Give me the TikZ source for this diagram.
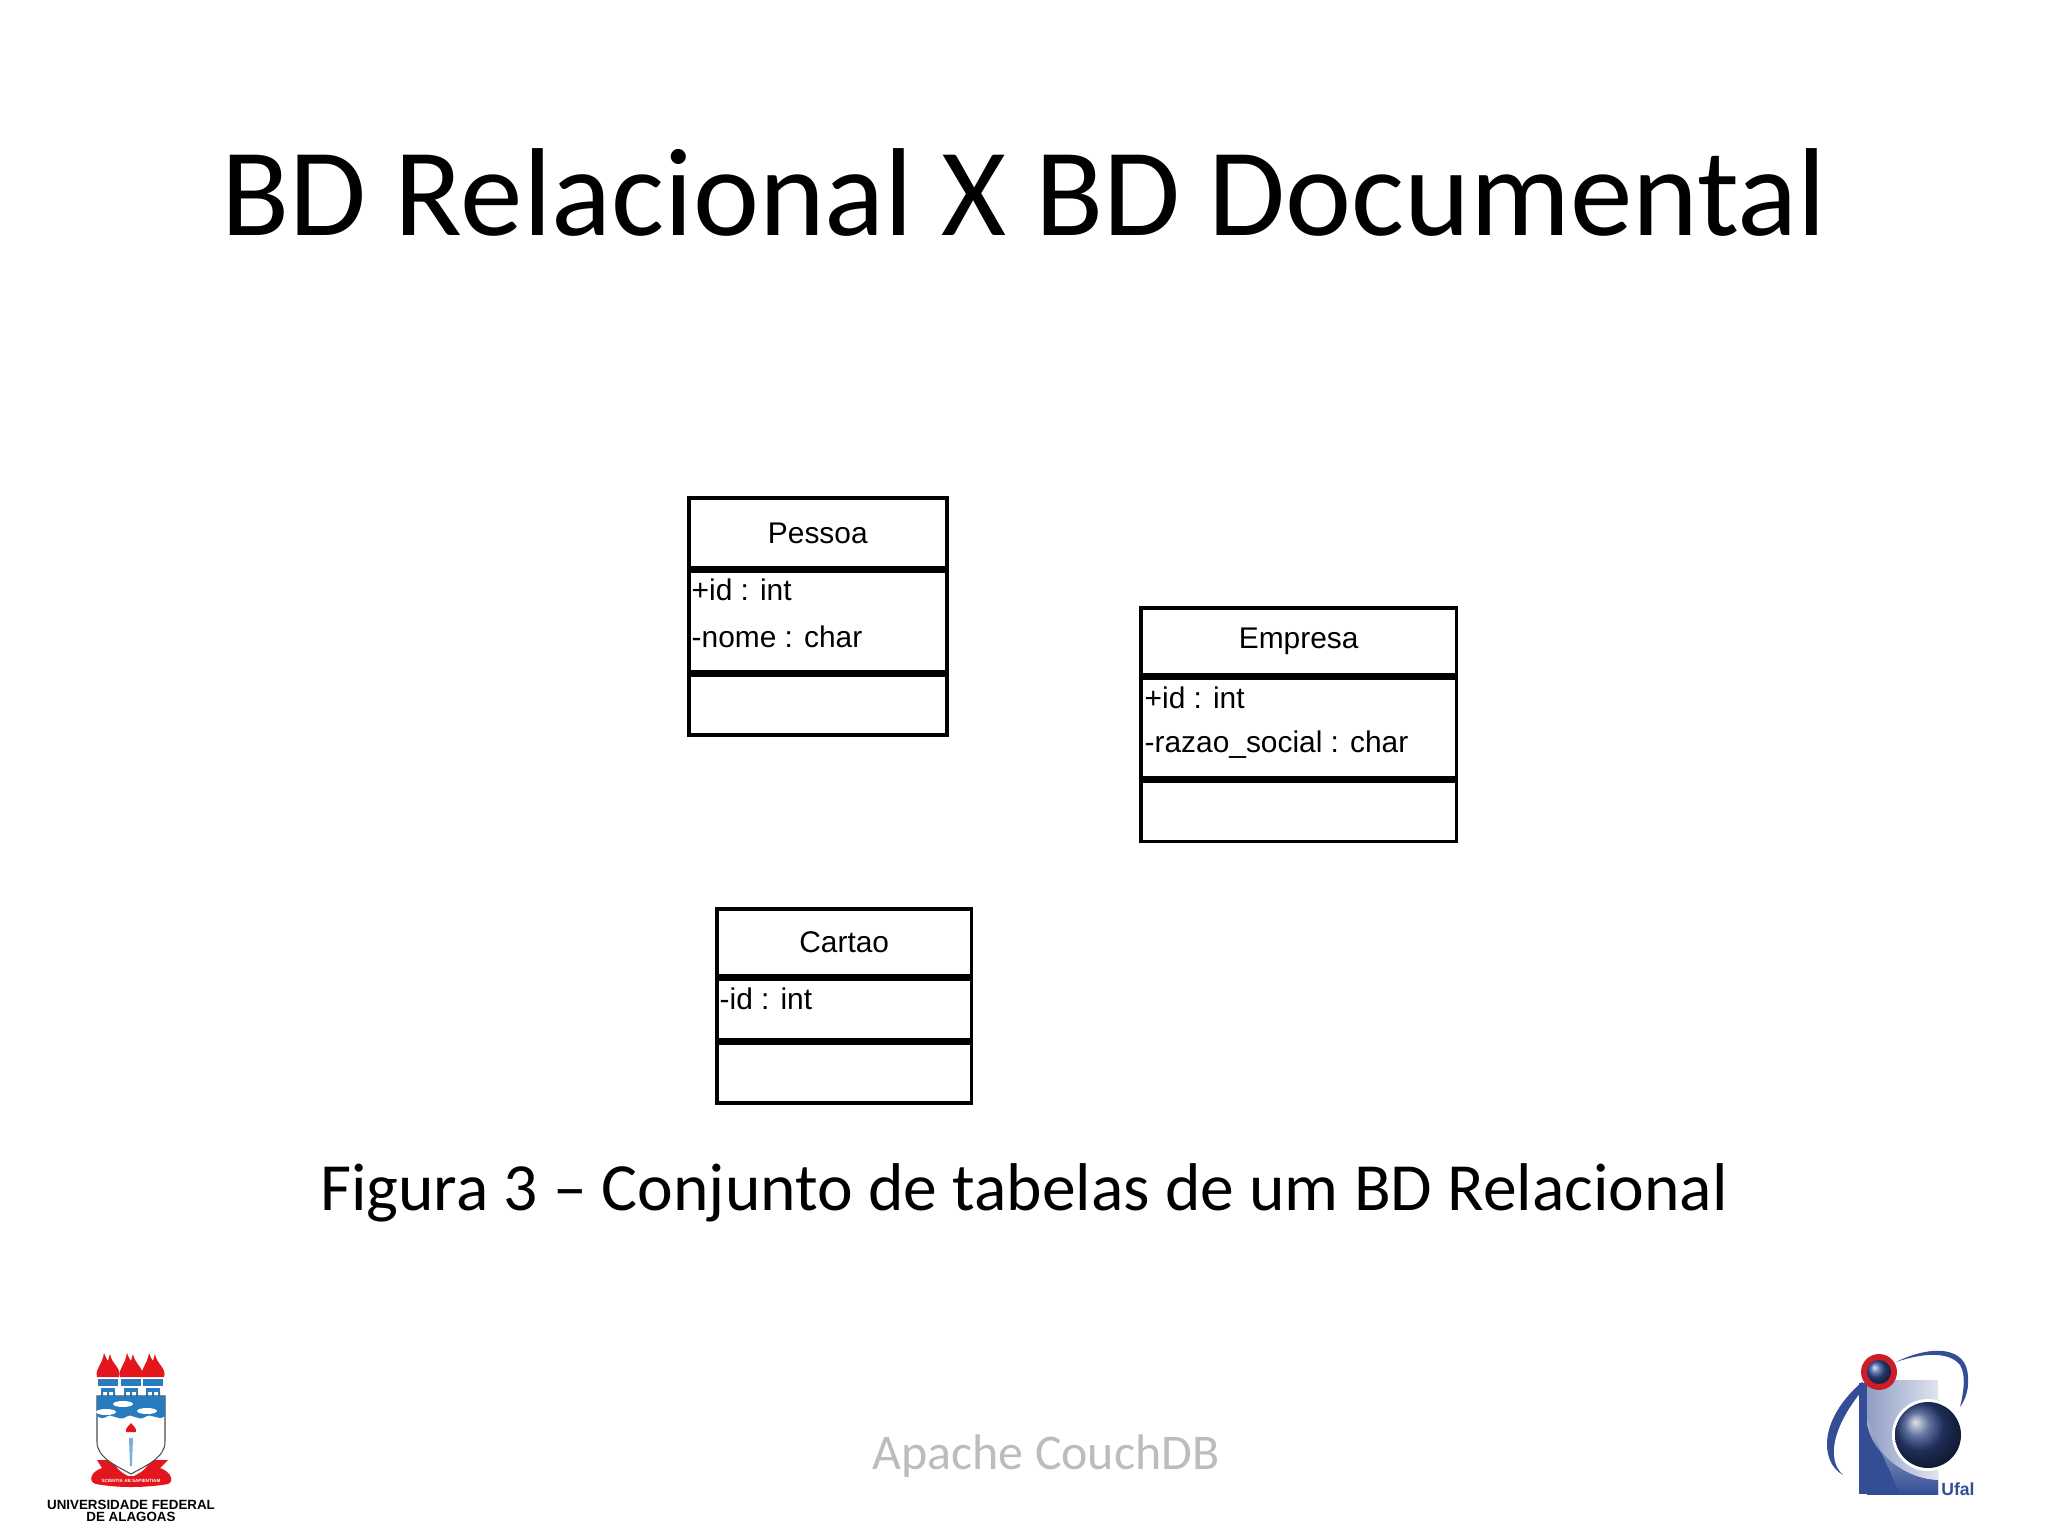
\documentclass[tikz,border=0pt]{standalone}
\usepackage{fontspec}
\setmainfont{Carlito}
\newfontfamily\umlfont{Liberation Sans}
\usepackage{xcolor}
\usetikzlibrary{positioning, shapes.geometric}
\definecolor{crestRed}{RGB}{226,22,28}
\definecolor{crestBlue}{RGB}{38,124,190}
\definecolor{icBlue}{RGB}{52,78,150}
\definecolor{icRing}{RGB}{205,30,40}
\definecolor{footGray}{RGB}{188,188,188}

\begin{document}
\begin{tikzpicture}[
    x=0.01cm,y=-0.01cm,
    cell/.style={draw=black,line width=1pt,fill=white,minimum height=0pt,inner sep=0pt,anchor=north west},
    headtext/.style={font=\umlfont\fontsize{8.5}{10}\selectfont,inner sep=0pt},
    attrtext/.style={font=\umlfont\fontsize{8.5}{10}\selectfont,inner sep=0pt,anchor=west},
    torch/.style={fill=crestRed,draw=none},
    >=stealth
  ]
  \useasboundingbox (0,0) rectangle (2048,1536);

  % Title and caption
  \node[font=\fontsize{35.6}{40}\selectfont] (title) at (1024,192) {BD Relacional X BD Documental};
  \node[font=\fontsize{19.2}{23}\selectfont] (caption) at (1024,1193) {Figura 3 -- Conjunto de tabelas de um BD Relacional};
  \node[font=\fontsize{14.2}{17}\selectfont,footGray] (footer) at (1046,1456) {Apache CouchDB};

  % Pessoa
  \node[cell,minimum width=73.4pt,minimum height=20pt] (pessoahead) at (687,496) {};
  \node[cell,minimum width=73.4pt,minimum height=28.4pt] (pessoaattr) at (pessoahead.south west) {};
  \node[cell,minimum width=73.4pt,minimum height=17pt] (pessoaops) at (pessoaattr.south west) {};
  \node[headtext] (pessoaname) at (pessoahead.center) {Pessoa};
  \node[attrtext] (pessoaid) at (691,590) {+id : int};
  \node[attrtext] (pessoanome) at (691,637) {-nome : char};

  % Empresa
  \node[cell,minimum width=89.8pt,minimum height=19pt] (empresahead) at (1139,606) {};
  \node[cell,minimum width=89.8pt,minimum height=28.4pt] (empresaattr) at (empresahead.south west) {};
  \node[cell,minimum width=89.8pt,minimum height=17pt] (empresaops) at (empresaattr.south west) {};
  \node[headtext] (empresaname) at (empresahead.center) {Empresa};
  \node[attrtext] (empresaid) at (1144,698) {+id : int};
  \node[attrtext] (empresarazao) at (1144,745) {-razao\_social : char};

  % Cartao
  \node[cell,minimum width=72.5pt,minimum height=19pt] (cartaohead) at (715,907) {};
  \node[cell,minimum width=72.5pt,minimum height=17.3pt] (cartaoattr) at (cartaohead.south west) {};
  \node[cell,minimum width=72.5pt,minimum height=17pt] (cartaoops) at (cartaoattr.south west) {};
  \node[headtext] (cartaoname) at (cartaohead.center) {Cartao};
  \node[attrtext] (cartaoid) at (719,999) {-id : int};

  % UFAL crest
  \foreach \tx in {108,131,153} {
    \fill[crestBlue] (\tx-10,1379) rectangle (\tx+10,1386);
    \fill[crestBlue] (\tx-7,1388) rectangle (\tx+7,1392);
    \fill[crestBlue] (\tx-7,1392) rectangle (\tx-5,1396) (\tx-1,1392) rectangle (\tx+1,1396) (\tx+5,1392) rectangle (\tx+7,1396);
    \fill[torch] (\tx-11,1377) .. controls (\tx-13,1368) and (\tx-6,1366) .. (\tx-4,1353)
      .. controls (\tx-2,1358) and (\tx-1,1360) .. (\tx,1361)
      .. controls (\tx+1,1358) and (\tx+1,1356) .. (\tx+2,1354)
      .. controls (\tx+4,1365) and (\tx+14,1368) .. (\tx+11,1377) -- cycle;
  }
  % ribbon behind the shield
  \fill[crestRed] (97,1460) -- (112,1460) .. controls (116,1468) and (120,1472) .. (128,1476)
    -- (134,1476) .. controls (142,1472) and (148,1468) .. (150,1460) -- (168,1460)
    -- (160,1468) .. controls (172,1472) and (174,1482) .. (168,1484)
    .. controls (145,1488) and (117,1488) .. (96,1484)
    .. controls (88,1482) and (90,1472) .. (102,1468) -- cycle;
  \draw[black!70,line width=0.3pt,fill=white] (97,1396) -- (165,1396) -- (165,1442)
    .. controls (165,1458) and (145,1466) .. (131,1474)
    .. controls (117,1466) and (97,1458) .. (97,1442) -- cycle;
  \fill[crestBlue] (97,1396) -- (165,1396) -- (165,1416)
    .. controls (158,1422) and (152,1412) .. (145,1417)
    .. controls (138,1422) and (132,1412) .. (126,1417)
    .. controls (118,1422) and (112,1412) .. (106,1417)
    .. controls (103,1419) and (100,1418) .. (97,1416) -- cycle;
  \fill[white] (106,1412) ellipse (10 and 3) (123,1404) ellipse (10 and 3) (147,1411) ellipse (10 and 3);
  \fill[crestBlue!60] (129,1438) -- (133,1438) -- (132,1466) -- (130,1466) -- cycle;
  \fill[crestRed] (126,1432) .. controls (125,1428) and (129,1426) .. (131,1423)
    .. controls (133,1426) and (137,1428) .. (136,1432) -- cycle;
  \node[font=\umlfont\bfseries\fontsize{1.3}{2}\selectfont,white,inner sep=0pt] (motto) at (131,1481) {SCIENTIA AB SAPIENTIAM};
  \node[font=\umlfont\bfseries\fontsize{3.8}{4}\selectfont,inner sep=0pt] (ufal1) at (131,1505) {UNIVERSIDADE FEDERAL};
  \node[font=\umlfont\bfseries\fontsize{3.8}{4}\selectfont,inner sep=0pt] (ufal2) at (131,1517) {DE ALAGOAS};

  % IC logo
  \fill[icBlue] (1843,1475) .. controls (1820,1462) and (1818,1420) .. (1862,1382)
    -- (1866,1386) .. controls (1832,1425) and (1826,1460) .. (1843,1475) -- cycle;
  \fill[icBlue] (1896,1362) .. controls (1930,1345) and (1968,1345) .. (1968,1378)
    .. controls (1969,1390) and (1965,1400) .. (1960,1407)
    .. controls (1964,1390) and (1966,1375) .. (1960,1365)
    .. controls (1950,1352) and (1925,1352) .. (1896,1362) -- cycle;
  \shade[top color=white!85!icBlue,bottom color=icBlue] (1867,1380) rectangle (1938,1494);
  \fill[icBlue] (1859,1383) rectangle (1900,1494);
  \shade[left color=icBlue!55,right color=icBlue!15] (1867,1380) -- (1938,1380) -- (1938,1480)
    .. controls (1905,1480) and (1868,1450) .. (1867,1420) -- cycle;
  \shade[top color=icBlue!40,bottom color=icBlue] (1867,1420) .. controls (1868,1450) and (1905,1480) .. (1938,1480)
    -- (1938,1494) -- (1900,1494) -- cycle;
  \fill[white] (1928,1435) circle (36);
  \shade[ball color=icBlue!85!black] (1928,1435) circle (33);
  \fill[icRing] (1879,1372) circle (18);
  \shade[ball color=icBlue] (1879,1372) circle (12);
  \node[font=\umlfont\bfseries\fontsize{5}{6}\selectfont,icBlue,inner sep=0pt] (ufaltext) at (1958,1489) {Ufal};
\end{tikzpicture}
\end{document}
